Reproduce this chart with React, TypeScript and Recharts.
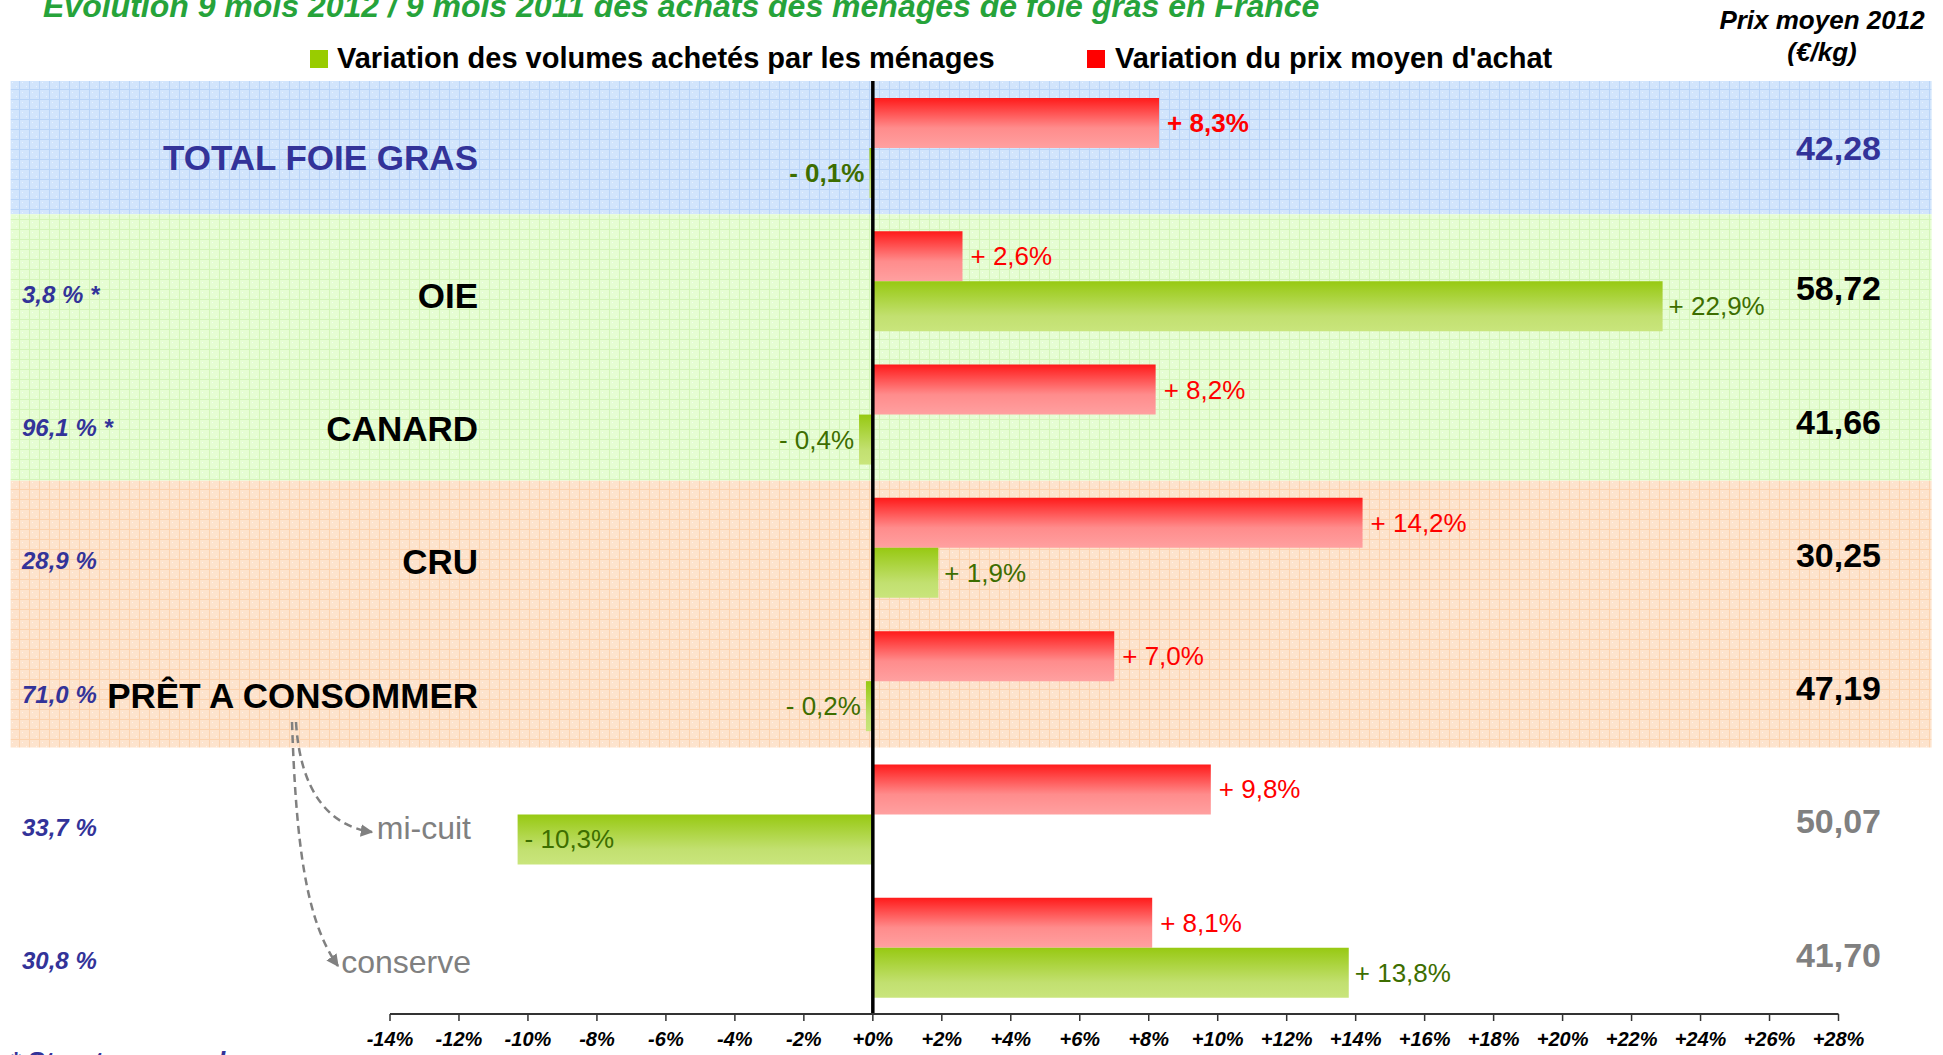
import React from "react";
import {
  BarChart,
  Bar,
  XAxis,
  YAxis,
  ReferenceArea,
  ReferenceLine,
  LabelList,
} from "recharts";

// Evolution 9 mois 2012 / 9 mois 2011, achats des ménages de foie gras
const categories = [
  "TOTAL FOIE GRAS",
  "OIE",
  "CANARD",
  "CRU",
  "PRÊT A CONSOMMER",
  "mi-cuit",
  "conserve",
];
const priceChange = [8.3, 2.6, 8.2, 14.2, 7.0, 9.8, 8.1];
const volumeChange = [-0.1, 22.9, -0.4, 1.9, -0.2, -10.3, 13.8];
const avgPrice2012 = [42.28, 58.72, 41.66, 30.25, 47.19, 50.07, 41.7];
const volumeShare = [null, 3.8, 96.1, 28.9, 71.0, 33.7, 30.8];
const footnoted = ["OIE", "CANARD"];
const xTicks = [
  -14, -12, -10, -8, -6, -4, -2, 0, 2, 4, 6, 8, 10, 12, 14, 16, 18, 20, 22,
  24, 26, 28,
];

const W = 1943;
const H = 1055;
const FONT = "'Liberation Sans', Arial, sans-serif";
const TOTAL = categories[0];
const SUBS = ["mi-cuit", "conserve"];

const data = categories.map((name, i) => ({
  name,
  price: priceChange[i],
  volume: volumeChange[i],
}));

const comma = (v: number, d: number) => v.toFixed(d).replace(".", ",");
const fmtPct = (v: number) => (v < 0 ? "- " : "+ ") + comma(Math.abs(v), 1) + "%";
const fmtTick = (v: number) => (v < 0 ? "" : "+") + v + "%";

// row texts (name, share, average price), hung on the price bar of each row:
// the bottom of the red bar is the middle of the category band
const RowTexts = (props: any) => {
  const { y, height, index } = props;
  const mid = y + height;
  const name = categories[index];
  const isTotal = name === TOTAL;
  const isSub = SUBS.includes(name);
  const share = volumeShare[index];
  const color = isTotal ? "#333399" : isSub ? "#808080" : "#000";
  return (
    <g fontFamily={FONT}>
      <text
        x={isSub ? 471 : 478}
        y={mid + (isTotal ? 9 : 14)}
        textAnchor="end"
        dominantBaseline="central"
        fontSize={isSub ? 32 : 35}
        fontWeight={isSub ? "normal" : "bold"}
        fill={color}
      >
        {name}
      </text>
      {share !== null && (
        <text
          x={22}
          y={mid + 13}
          dominantBaseline="central"
          fontSize={24}
          fontWeight="bold"
          fontStyle="italic"
          fill="#333399"
        >
          {comma(share, 1) + " %" + (footnoted.includes(name) ? " *" : "")}
        </text>
      )}
      <text
        x={1881}
        y={mid + (isTotal ? 0 : 7)}
        textAnchor="end"
        dominantBaseline="central"
        fontSize={34}
        fontWeight="bold"
        fill={color}
      >
        {comma(avgPrice2012[index], 2)}
      </text>
    </g>
  );
};

const PriceLabel = (props: any) => {
  const { x, y, width, height, value, index } = props;
  const end = Math.max(x, x + width);
  return (
    <text
      x={end + 8}
      y={y + height / 2}
      dominantBaseline="central"
      fontFamily={FONT}
      fontSize={26}
      fontWeight={index === 0 ? "bold" : "normal"}
      fill="#ff0000"
    >
      {fmtPct(value)}
    </text>
  );
};

const VolumeLabel = (props: any) => {
  const { x, y, width, height, value, index } = props;
  const left = Math.min(x, x + width);
  const right = Math.max(x, x + width);
  let tx = right + 6;
  let anchor = "start";
  if (value < -5) {
    tx = left + 7;
  } else if (value < 0) {
    tx = left - 5;
    anchor = "end";
  }
  return (
    <text
      x={tx}
      y={y + height / 2}
      textAnchor={anchor}
      dominantBaseline="central"
      fontFamily={FONT}
      fontSize={26}
      fontWeight={index === 0 ? "bold" : "normal"}
      fill="#3d6e00"
    >
      {fmtPct(value)}
    </text>
  );
};

const gridPattern = (id: string, base: string, line: string, dot: string) => (
  <pattern id={id} width="10" height="10" patternUnits="userSpaceOnUse">
    <rect width="10" height="10" fill={base} />
    <path d="M0 9.5H10M9.5 0V10" stroke={line} strokeWidth="1" />
    <rect x="2" y="2" width="1" height="1" fill={dot} />
    <rect x="6" y="6" width="1" height="1" fill={dot} />
  </pattern>
);

const Overlay = () => (
  <svg
    width={W}
    height={H}
    style={{ position: "absolute", left: 0, top: 0, pointerEvents: "none" }}
    fontFamily={FONT}
  >
    <defs>
      <marker
        id="arrowHead"
        viewBox="0 0 10 10"
        refX="9"
        refY="5"
        markerWidth="5"
        markerHeight="5"
        orient="auto"
      >
        <path d="M0 0L10 5L0 10z" fill="#808080" />
      </marker>
    </defs>
    <text
      x={43}
      y={17}
      fontSize={32}
      fontWeight="bold"
      fontStyle="italic"
      fill="#26a33a"
    >
      Evolution 9 mois 2012 / 9 mois 2011 des achats des ménages de foie gras en France
    </text>
    <rect x={310} y={50} width={18} height={18} fill="#99cc00" />
    <text x={337} y={68} fontSize={29} fontWeight="bold" fill="#000">
      Variation des volumes achetés par les ménages
    </text>
    <rect x={1087} y={50} width={18} height={18} fill="#ff0000" />
    <text x={1115} y={68} fontSize={29} fontWeight="bold" fill="#000">
      Variation du prix moyen d'achat
    </text>
    <text
      x={1822}
      y={29}
      textAnchor="middle"
      fontSize={26}
      fontWeight="bold"
      fontStyle="italic"
    >
      Prix moyen 2012
    </text>
    <text
      x={1822}
      y={61}
      textAnchor="middle"
      fontSize={26}
      fontWeight="bold"
      fontStyle="italic"
    >
      (€/kg)
    </text>
    <path
      d="M296 722 C300 790 328 826 372 832"
      fill="none"
      stroke="#808080"
      strokeWidth={2.5}
      strokeDasharray="8 5"
      markerEnd="url(#arrowHead)"
    />
    <path
      d="M292 722 C296 840 305 920 338 966"
      fill="none"
      stroke="#808080"
      strokeWidth={2.5}
      strokeDasharray="8 5"
      markerEnd="url(#arrowHead)"
    />
    <text x={10} y={1070} fontSize={26} fontWeight="bold" fontStyle="italic" fill="#333399">
      * Structure en volume
    </text>
  </svg>
);

export default function App() {
  return (
    <div
      style={{
        position: "absolute",
        left: 0,
        top: 0,
        width: W,
        height: H,
        background: "#fff",
        overflow: "hidden",
        fontFamily: FONT,
      }}
    >
      <BarChart
        width={W}
        height={H}
        data={data}
        layout="vertical"
        barGap={0}
        barSize={50}
        margin={{ top: 81, right: 104.5, bottom: 0, left: 390 }}
      >
        <defs>
          <linearGradient id="redFill" x1="0" y1="0" x2="0" y2="1">
            <stop offset="0%" stopColor="#ff1a1a" />
            <stop offset="60%" stopColor="#ff8c8c" />
            <stop offset="100%" stopColor="#ffa0a0" />
          </linearGradient>
          <linearGradient id="greenFill" x1="0" y1="0" x2="0" y2="1">
            <stop offset="0%" stopColor="#97c912" />
            <stop offset="70%" stopColor="#c2e070" />
            <stop offset="100%" stopColor="#c9e57c" />
          </linearGradient>
          {gridPattern("bandBlue", "#d2e5fc", "#b9d4f7", "#eaf3ff")}
          {gridPattern("bandGreen", "#e6fdd3", "#d3f4b8", "#f4fff0")}
          {gridPattern("bandOrange", "#fde3cd", "#fbd2ae", "#fff3ea")}
        </defs>
        <ReferenceArea
          y1={categories[0]}
          y2={categories[0]}
          x1={-25}
          x2={30.7}
          ifOverflow="visible"
          fill="url(#bandBlue)"
          fillOpacity={1}
        />
        <ReferenceArea
          y1={categories[1]}
          y2={categories[2]}
          x1={-25}
          x2={30.7}
          ifOverflow="visible"
          fill="url(#bandGreen)"
          fillOpacity={1}
        />
        <ReferenceArea
          y1={categories[3]}
          y2={categories[4]}
          x1={-25}
          x2={30.7}
          ifOverflow="visible"
          fill="url(#bandOrange)"
          fillOpacity={1}
        />
        <XAxis
          type="number"
          domain={[-14, 28]}
          ticks={xTicks}
          tickFormatter={fmtTick}
          height={41}
          tickSize={7}
          tickMargin={11}
          stroke="#333"
          axisLine={{ stroke: "#333", strokeWidth: 2 }}
          tickLine={{ stroke: "#333", strokeWidth: 1.5 }}
          tick={{
            fill: "#000",
            fontSize: 20,
            fontWeight: "bold",
            fontStyle: "italic",
            fontFamily: FONT,
          }}
          interval={0}
        />
        <YAxis type="category" dataKey="name" hide width={0} />
        <Bar dataKey="price" fill="url(#redFill)" isAnimationActive={false}>
          <LabelList dataKey="price" content={<PriceLabel />} />
          <LabelList dataKey="name" content={<RowTexts />} />
        </Bar>
        <Bar dataKey="volume" fill="url(#greenFill)" isAnimationActive={false}>
          <LabelList dataKey="volume" content={<VolumeLabel />} />
        </Bar>
        <ReferenceLine x={0} stroke="#000" strokeWidth={3.5} />
      </BarChart>
      <Overlay />
    </div>
  );
}
